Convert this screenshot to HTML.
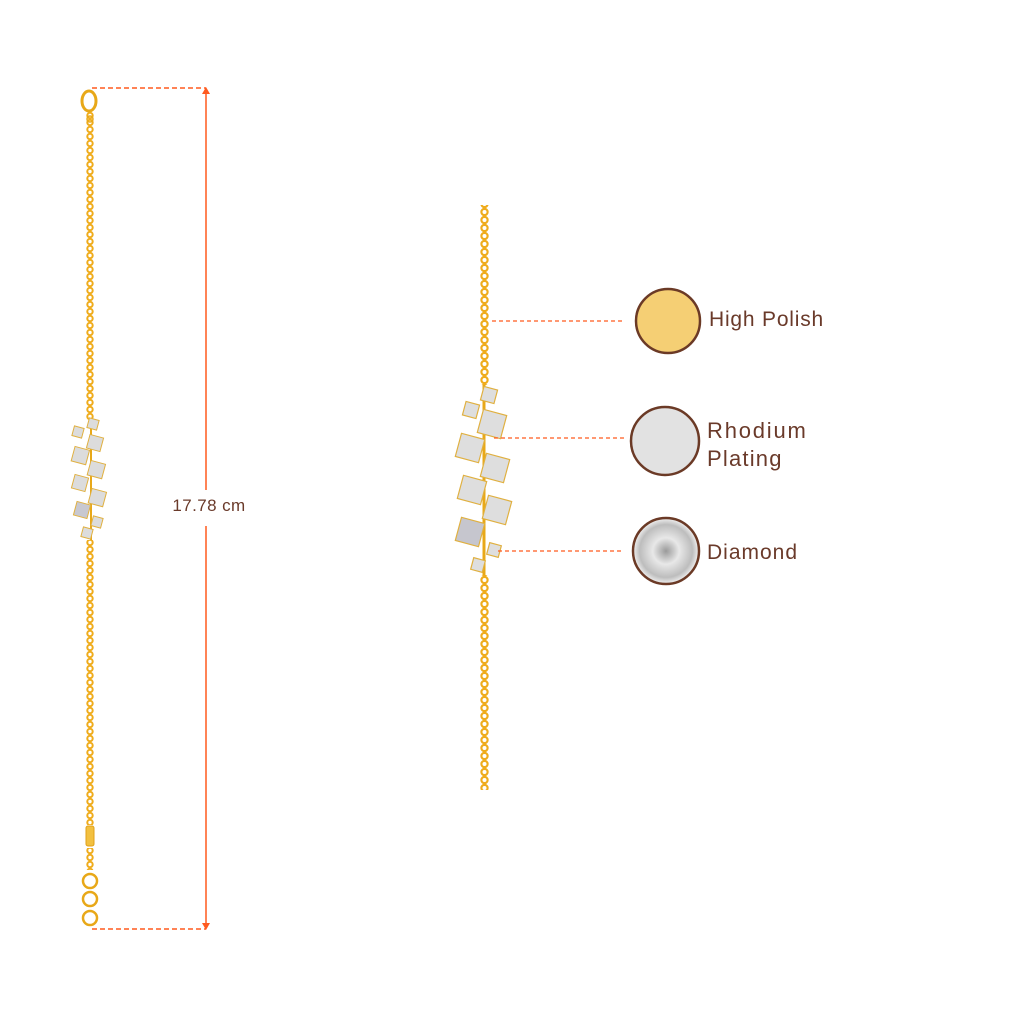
<!DOCTYPE html>
<html><head><meta charset="utf-8"><style>
html,body{margin:0;padding:0;background:#fff;width:1024px;height:1024px;overflow:hidden}
svg{display:block}
text{font-family:"Liberation Sans",sans-serif;fill:#6a3a2a}
</style></head><body>
<svg width="1024" height="1024" viewBox="0 0 1024 1024" xmlns="http://www.w3.org/2000/svg">
<defs>
<pattern id="chainL" x="86" y="0" width="8" height="7" patternUnits="userSpaceOnUse">
<circle cx="4" cy="3.5" r="2.7" fill="none" stroke="#efac1c" stroke-width="2"/>
</pattern>
<pattern id="chainR" x="480" y="0" width="9" height="8" patternUnits="userSpaceOnUse">
<circle cx="4.5" cy="4" r="3.1" fill="none" stroke="#efac1c" stroke-width="2.2"/>
</pattern>
<radialGradient id="dia" cx="50%" cy="50%" r="50%">
<stop offset="0" stop-color="#9a9a9a"/><stop offset="0.4" stop-color="#e8e8e8"/><stop offset="0.8" stop-color="#bdbdbd"/><stop offset="1" stop-color="#f2f2f2"/>
</radialGradient>
</defs>

<!-- left bracelet -->
<rect x="86" y="110" width="8" height="310" fill="url(#chainL)"/>
<rect x="86" y="540" width="8" height="285" fill="url(#chainL)"/>
<rect x="86" y="848" width="8" height="22" fill="url(#chainL)"/>
<ellipse cx="89" cy="101" rx="7" ry="10" fill="none" stroke="#e8a818" stroke-width="3"/>
<circle cx="90" cy="119" r="3" fill="none" stroke="#e8a818" stroke-width="1.5"/>
<rect x="86" y="826" width="8" height="20" rx="2" fill="#f2c040" stroke="#e0a018"/>
<circle cx="90" cy="881" r="7" fill="none" stroke="#e8a818" stroke-width="2.5"/>
<circle cx="90" cy="899" r="7" fill="none" stroke="#e8a818" stroke-width="2.5"/>
<circle cx="90" cy="918" r="7" fill="none" stroke="#e8a818" stroke-width="2.5"/>
<line x1="91" y1="420" x2="91" y2="540" stroke="#e8a818" stroke-width="2"/>
<g fill="#dcdcdc" stroke="#e0b040" stroke-width="1">
<rect x="88" y="419" width="10" height="10" transform="rotate(15 93 424)"/>
<rect x="73" y="427" width="10" height="10" transform="rotate(15 78 432)"/>
<rect x="88" y="436" width="14" height="14" transform="rotate(15 95 443)"/>
<rect x="73" y="448" width="15" height="15" transform="rotate(15 80 455)"/>
<rect x="89" y="462" width="15" height="15" transform="rotate(15 96 469)"/>
<rect x="73" y="476" width="14" height="14" transform="rotate(15 80 483)"/>
<rect x="90" y="490" width="15" height="15" transform="rotate(15 97 497)"/>
<rect x="75" y="503" width="14" height="14" fill="#c8c8d0" transform="rotate(15 82 510)"/>
<rect x="92" y="517" width="10" height="10" transform="rotate(15 97 522)"/>
<rect x="82" y="528" width="10" height="10" transform="rotate(15 87 533)"/>
</g>

<!-- dimension -->
<g stroke="#ff5a1f" stroke-width="1.5" fill="none">
<line x1="92" y1="88" x2="206" y2="88" stroke-dasharray="5,3"/>
<line x1="92" y1="929" x2="206" y2="929" stroke-dasharray="5,3"/>
<line x1="206" y1="92" x2="206" y2="490"/>
<line x1="206" y1="526" x2="206" y2="925"/>
</g>
<polygon points="202,94 210,94 206,87" fill="#ff5a1f"/>
<polygon points="202,923 210,923 206,930" fill="#ff5a1f"/>
<text x="209" y="511" font-size="17" letter-spacing="0.4" text-anchor="middle">17.78 cm</text>

<!-- right bracelet -->
<rect x="480" y="205" width="9" height="180" fill="url(#chainR)"/>
<rect x="480" y="575" width="9" height="215" fill="url(#chainR)"/>
<line x1="484" y1="385" x2="484" y2="575" stroke="#e8a818" stroke-width="3"/>
<g fill="#dedede" stroke="#e0b040" stroke-width="1.2">
<rect x="482" y="388" width="14" height="14" transform="rotate(15 489 395)"/>
<rect x="464" y="403" width="14" height="14" transform="rotate(15 471 410)"/>
<rect x="480" y="412" width="24" height="24" transform="rotate(15 492 424)"/>
<rect x="458" y="436" width="24" height="24" transform="rotate(15 470 448)"/>
<rect x="483" y="456" width="24" height="24" transform="rotate(15 495 468)"/>
<rect x="460" y="478" width="24" height="24" transform="rotate(15 472 490)"/>
<rect x="485" y="498" width="24" height="24" transform="rotate(15 497 510)"/>
<rect x="458" y="520" width="24" height="24" fill="#c6c6ce" transform="rotate(15 470 532)"/>
<rect x="488" y="544" width="12" height="12" transform="rotate(15 494 550)"/>
<rect x="472" y="559" width="12" height="12" transform="rotate(15 478 565)"/>
</g>

<!-- callouts -->
<g stroke="#ff5a1f" stroke-width="1.3" stroke-dasharray="4,3">
<line x1="492" y1="321" x2="624" y2="321"/>
<line x1="494" y1="438" x2="624" y2="438"/>
<line x1="498" y1="551" x2="624" y2="551"/>
</g>
<circle cx="668" cy="321" r="32" fill="#f5cf74" stroke="#6b3a26" stroke-width="2.5"/>
<circle cx="665" cy="441" r="34" fill="#e2e2e2" stroke="#6b3a26" stroke-width="2.5"/>
<circle cx="666" cy="551" r="33" fill="url(#dia)" stroke="#6b3a26" stroke-width="2.5"/>
<text x="709" y="326" font-size="21" letter-spacing="0.8">High Polish</text>
<text x="707" y="438" font-size="22" letter-spacing="1.8">Rhodium</text>
<text x="707" y="466" font-size="22" letter-spacing="1.2">Plating</text>
<text x="707" y="559" font-size="21" letter-spacing="1">Diamond</text>
</svg>
</body></html>
